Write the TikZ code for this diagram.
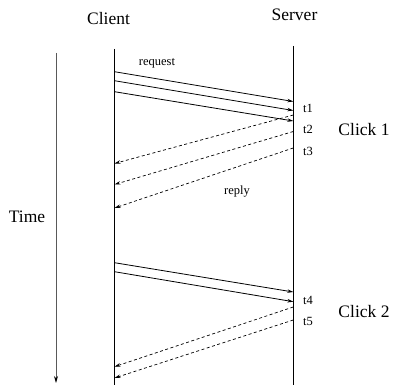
\documentclass[tikz,border=0pt]{standalone}
\usepackage{fontspec}
\setmainfont{Liberation Serif}
\usetikzlibrary{arrows.meta}
\begin{document}
\begin{tikzpicture}[x=1pt,y=-1pt,
  big/.style={font=\fontsize{17.5}{20}\selectfont, inner sep=0pt},
  small/.style={font=\fontsize{12.5}{14}\selectfont, inner sep=0pt},
  req/.style={line width=0.8pt, -{Stealth[length=6pt,width=3.5pt]}},
  rep/.style={line width=0.7pt, dashed, dash pattern=on 3pt off 2.5pt, -{Stealth[length=6pt,width=3.5pt]}},
  life/.style={line width=0.8pt}]
\useasboundingbox (0,0) rectangle (393,385);
% labels
\node[big] (client) at (108.5,19) {Client};
\node[big] (server) at (294.5,15) {Server};
\node[big] (time) at (27,217) {Time};
\node[big] (click1) at (364,130) {Click 1};
\node[big] (click2) at (364,312) {Click 2};
\node[small] (request) at (157,63) {request};
\node[small] (reply) at (237,192) {reply};
\node[small] (t1) at (308,108) {t1};
\node[small] (t2) at (308,129) {t2};
\node[small] (t3) at (308,151) {t3};
\node[small] (t4) at (308,300) {t4};
\node[small] (t5) at (308,321) {t5};
% lifelines
\coordinate (ctop) at (114.5,49);
\coordinate (cbot) at (114.5,385);
\coordinate (stop) at (293.3,46);
\coordinate (sbot) at (293.3,385);
\coordinate (ttop) at (56,53);
\coordinate (tbot) at (56,383);
\draw[life] (ctop) -- (cbot);
\draw[life] (stop) -- (sbot);
\draw[line width=0.9pt, gray!70!black, -{Stealth[length=7pt,width=4pt,black]}] (ttop) -- (tbot);
% requests click 1
\coordinate (a1) at (114.5,71.7); \coordinate (b1) at (293.3,101.5);
\coordinate (a2) at (114.5,80.7); \coordinate (b2) at (293.3,110.5);
\coordinate (a3) at (114.5,91.7); \coordinate (b3) at (293.3,121);
\draw[req] (a1) -- (b1);
\draw[req] (a2) -- (b2);
\draw[req] (a3) -- (b3);
% replies click 1
\coordinate (r1) at (293.3,115); \coordinate (q1) at (114.5,163.5);
\coordinate (r2) at (293.3,131.5); \coordinate (q2) at (114.5,184.5);
\coordinate (r3) at (293.3,148); \coordinate (q3) at (114.5,208);
\draw[rep] (r1) -- (q1);
\draw[rep] (r2) -- (q2);
\draw[rep] (r3) -- (q3);
% requests click 2
\coordinate (a4) at (114.5,262.7); \coordinate (b4) at (293.3,292);
\coordinate (a5) at (114.5,271.7); \coordinate (b5) at (293.3,301.7);
\draw[req] (a4) -- (b4);
\draw[req] (a5) -- (b5);
% replies click 2
\coordinate (r4) at (293.3,307); \coordinate (q4) at (114.5,366.7);
\coordinate (r5) at (293.3,320); \coordinate (q5) at (114.5,378);
\draw[rep] (r4) -- (q4);
\draw[rep] (r5) -- (q5);
\end{tikzpicture}
\end{document}
